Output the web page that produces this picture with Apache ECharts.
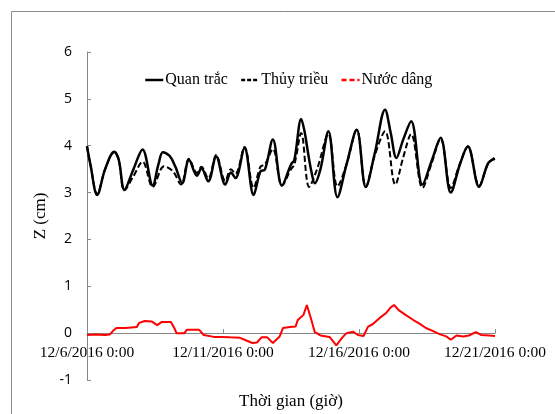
<!DOCTYPE html>
<html>
<head>
<meta charset="utf-8">
<script src="https://cdn.jsdelivr.net/npm/echarts@6/dist/echarts.min.js"></script>
<style>
    html, body { margin: 0; padding: 0; background: #fff; }
    #chart { width: 555px; height: 414px; }
</style>
</head>
<body>
<div id="chart"></div>
<script>
// giờ tính từ 12/6/2016 0:00
var tickLabels = ["12/6/2016 0:00", "12/11/2016 0:00", "12/16/2016 0:00", "12/21/2016 0:00"];

// Quan trắc
var obsHours = [0, 3, 9, 16, 24, 28, 33, 41, 49, 58, 63, 67, 73, 78, 84, 90, 97, 101, 107, 114,
    122, 127, 131, 139, 147, 153, 157, 164, 172, 180, 183, 189, 192, 195, 198, 201, 206, 213, 221, 229,
    238, 246, 254, 263, 268, 273, 279, 286, 296, 304, 312, 321, 329, 336, 346, 354, 360];
var obsValues = [3.99, 3.6, 2.95, 3.5, 3.87, 3.7, 3.06, 3.5, 3.92, 3.15, 3.6, 3.86, 3.78, 3.55, 3.2, 3.7, 3.36, 3.52, 3.24, 3.77,
    3.17, 3.43, 3.31, 3.95, 2.95, 3.45, 3.49, 4.13, 3.15, 3.6, 3.7, 4.57, 4.3, 3.85, 3.45, 3.2, 3.5, 4.31, 2.9, 3.6,
    4.34, 3.12, 3.85, 4.77, 4.27, 3.74, 4.13, 4.52, 3.17, 3.67, 4.17, 3.0, 3.6, 3.99, 3.12, 3.63, 3.72];

// Thủy triều
var tideHours = [0, 3, 9, 16, 24, 28, 33, 41, 49, 58, 68, 76, 83, 90, 97, 101, 107, 114, 122, 127,
    131, 139, 147, 153, 157, 164, 172, 180, 183, 189, 196, 203, 213, 221, 229, 238, 246, 254, 263, 272,
    279, 286, 296, 304, 312, 321, 329, 336, 346, 354, 360];
var tideValues = [3.99, 3.6, 2.97, 3.5, 3.86, 3.7, 3.05, 3.35, 3.66, 3.12, 3.56, 3.45, 3.17, 3.72, 3.42, 3.55, 3.3, 3.8, 3.25, 3.5,
    3.4, 3.97, 3.1, 3.55, 3.6, 3.93, 3.15, 3.5, 3.6, 4.27, 3.12, 3.5, 4.25, 3.13, 3.6, 4.34, 3.12, 3.8, 4.31, 3.17,
    3.75, 4.25, 3.1, 3.62, 4.15, 3.1, 3.62, 3.98, 3.15, 3.62, 3.75];

// Nước dâng
var surgeHours = [0, 7, 16, 20, 23, 26, 34, 44, 46, 51, 57, 62, 66, 74, 77, 79, 86, 88, 99, 103,
    112, 118, 126, 135, 139, 146, 150, 154, 159, 164, 170, 173, 179, 184, 186, 191, 194, 198, 201, 206,
    214, 220, 225, 229, 235, 239, 244, 248, 252, 258, 264, 268, 271, 275, 281, 288, 293, 299, 305, 311,
    317, 321, 326, 332, 337, 343, 348, 355, 360];
var surgeValues = [-0.04, -0.03, -0.04, -0.03, 0.05, 0.11, 0.11, 0.13, 0.22, 0.26, 0.25, 0.17, 0.24, 0.24, 0.11, 0.0, 0.0, 0.07, 0.07, -0.04,
    -0.08, -0.08, -0.09, -0.1, -0.14, -0.21, -0.2, -0.09, -0.09, -0.21, -0.07, 0.11, 0.13, 0.14, 0.28, 0.39, 0.6, 0.28, 0.02, -0.05,
    -0.08, -0.26, -0.1, 0.0, 0.03, -0.04, -0.06, 0.14, 0.19, 0.32, 0.43, 0.55, 0.6, 0.49, 0.39, 0.28, 0.21, 0.11, 0.05, -0.02,
    -0.07, -0.14, -0.05, -0.07, -0.05, 0.02, -0.04, -0.05, -0.06];

function pairs(hours, values) {
    var out = [];
    for (var i = 0; i < hours.length; i++) {
        out.push([hours[i], values[i]]);
    }
    return out;
}

var chartDom = document.getElementById("chart");
var mychart = echarts.init(chartDom);
var serif = "Liberation Serif";
var axisColor = "#868686";

var gridTop = 52, gridBottom = 34;
var yMin = -1, yMax = 6;
// trục hoành nằm tại Z = 0: dời lên bằng offset âm
var plotH = 414 - gridTop - gridBottom;
var zeroOffset = -plotH * (0 - yMin) / (yMax - yMin);

var option = {
    animation: false,
    graphic: [
        {
            // khung ngoài
            type: "rect",
            shape: { x: 11.5, y: 11.5, width: 600, height: 500 },
            style: { fill: "none", stroke: "#8c8c8c", lineWidth: 1 }
        }
    ],
    legend: {
        top: 72,
        left: 144,
        padding: 0,
        itemWidth: 18,
        itemHeight: 10,
        itemGap: 12,
        itemStyle: { opacity: 0 }, // ẩn chấm tròn, chỉ giữ đoạn thẳng
        textStyle: { fontFamily: serif, fontSize: 16, color: "#000", padding: [0, 0, 0, -3] },
        data: [
            { name: "Quan trắc", lineStyle: { width: 2.5 } },
            { name: "Thủy triều", lineStyle: { width: 2.5, type: [4, 2] } },
            { name: "Nước dâng", lineStyle: { width: 2.5, type: [5, 3] } }
        ]
    },
    grid: {
        left: 87,
        right: 60,
        top: gridTop,
        bottom: gridBottom,
        containLabel: false,
        outerBoundsMode: "none"
    },
    xAxis: {
        type: "value",
        min: 0,
        max: 360,
        interval: 120,
        position: "bottom",
        offset: zeroOffset,
        name: "Thời gian (giờ)",
        nameLocation: "middle",
        nameGap: 60,
        nameTextStyle: { fontFamily: serif, fontSize: 17, color: "#000" },
        axisLine: { onZero: false, lineStyle: { color: axisColor, width: 1 } },
        axisTick: { inside: true, length: 4, lineStyle: { color: axisColor } },
        splitLine: { show: false },
        axisLabel: {
            margin: 12,
            fontFamily: serif,
            fontSize: 15.5,
            color: "#000",
            formatter: function (value) {
                return tickLabels[Math.round(value / 120)];
            }
        }
    },
    yAxis: {
        type: "value",
        min: yMin,
        max: yMax,
        interval: 1,
        name: "Z (cm)",
        nameLocation: "middle",
        nameGap: 38,
        nameTextStyle: { fontFamily: serif, fontSize: 17, color: "#000" },
        axisLine: { show: true, lineStyle: { color: axisColor, width: 1 } },
        axisTick: { show: true, inside: true, length: 4, lineStyle: { color: axisColor } },
        splitLine: { show: false },
        axisLabel: {
            margin: 15,
            fontFamily: "Open Sans",
            fontSize: 14,
            color: "#000"
        }
    },
    series: [
        {
            name: "Quan trắc",
            type: "line",
            data: pairs(obsHours, obsValues),
            symbol: "none",
            smooth: 0.35,
            lineStyle: { color: "#000", width: 2.5 },
            itemStyle: { color: "#000" }
        },
        {
            name: "Thủy triều",
            type: "line",
            data: pairs(tideHours, tideValues),
            symbol: "none",
            smooth: 0.35,
            lineStyle: { color: "#000", width: 2, type: [6, 3] },
            itemStyle: { color: "#000" }
        },
        {
            name: "Nước dâng",
            type: "line",
            data: pairs(surgeHours, surgeValues),
            symbol: "none",
            lineStyle: { color: "#ff0000", width: 2 },
            itemStyle: { color: "#ff0000" }
        }
    ]
};

option && mychart.setOption(option);
</script>
</body>
</html>
